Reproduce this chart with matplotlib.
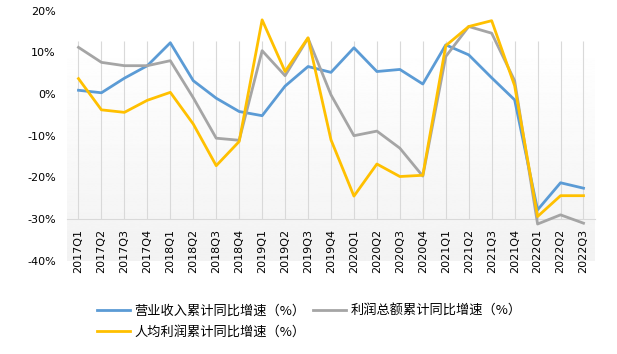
import numpy as np
import matplotlib
matplotlib.use("Agg")
import matplotlib.pyplot as plt

plt.rcParams['font.family'] = ['DejaVu Sans', 'Noto Sans CJK SC']

# 季度
quarters = ['2017Q1', '2017Q2', '2017Q3', '2017Q4',
            '2018Q1', '2018Q2', '2018Q3', '2018Q4',
            '2019Q1', '2019Q2', '2019Q3', '2019Q4',
            '2020Q1', '2020Q2', '2020Q3', '2020Q4',
            '2021Q1', '2021Q2', '2021Q3', '2021Q4',
            '2022Q1', '2022Q2', '2022Q3']

# 营业收入累计同比增速（%）
revenue = [0.9, 0.3, 3.8, 6.8, 12.3, 3.2, -1.0, -4.2, -5.2, 1.9, 6.6, 5.2,
           11.1, 5.4, 5.9, 2.4, 11.8, 9.4, 3.9, -1.4, -27.8, -21.3, -22.6]
# 利润总额累计同比增速（%）
profit = [11.2, 7.6, 6.8, 6.8, 8.0, -0.9, -10.6, -11.1, 10.4, 4.4, 13.4, -0.2,
          -10.0, -8.9, -13.0, -19.7, 9.0, 16.2, 14.6, 3.2, -31.2, -29.0, -31.0]
# 人均利润累计同比增速（%）
profit_pc = [3.7, -3.8, -4.4, -1.5, 0.4, -7.2, -17.2, -11.4, 17.8, 5.4, 13.5, -11.0,
             -24.5, -16.8, -19.8, -19.5, 11.6, 16.2, 17.6, 2.0, -29.4, -24.4, -24.4]

labels = ['营业收入累计同比增速（%）', '利润总额累计同比增速（%）', '人均利润累计同比增速（%）']
colors = ['#5B9BD5', '#A5A5A5', '#FFC000']

fig = plt.figure(figsize=(6.17, 3.54), dpi=100)
ax = fig.add_axes([0.1086, 0.2636, 0.8557, 0.7062])

x = np.arange(len(quarters))
grad_top = 12.7

# 背景渐变
grad = np.linspace(1.0, 0.95, 256).reshape(-1, 1)
ax.imshow(grad, cmap='gray', vmin=0, vmax=1, aspect='auto',
          extent=(-0.5, len(quarters) - 0.5, -40, grad_top), zorder=0)

ax.vlines(x, -30, grad_top, color='#d9d9d9', lw=0.8, zorder=1)

lines = []
for vals, c, lab in zip([revenue, profit, profit_pc], colors, labels):
    l, = ax.plot(x, vals, color=c, lw=2, label=lab, zorder=3)
    lines.append(l)

for s in ['top', 'right', 'left']:
    ax.spines[s].set_visible(False)
ax.spines['bottom'].set_position(('data', -30))
ax.spines['bottom'].set_color('#d9d9d9')
ax.spines['bottom'].set_zorder(2)

ax.set_xlim(-0.5, len(quarters) - 0.5)
ax.set_ylim(-40, 20)
ax.set_yticks(range(-40, 21, 10))
ax.set_yticklabels([f'{v}%' for v in range(-40, 21, 10)], fontsize=8)
ax.set_xticks(x)
ax.set_xticklabels(quarters, fontsize=8)
ax.tick_params(axis='both', length=0)
ax.tick_params(axis='x', pad=7, labelrotation=90)
ax.tick_params(axis='y', pad=8)

# 按列填充：蓝、黄 在第一列，灰 在第二列
fig.legend(handles=[lines[0], lines[2], lines[1]], loc='upper left',
           bbox_to_anchor=(0.158, 0.14),
           ncol=2, frameon=False, borderpad=0, borderaxespad=0,
           handlelength=2.5, handletextpad=0.3, columnspacing=0.6,
           labelspacing=0.65,
           prop={'family': ['Noto Sans CJK SC', 'DejaVu Sans'], 'size': 9.5})

fig.savefig('out.png', dpi=100)
